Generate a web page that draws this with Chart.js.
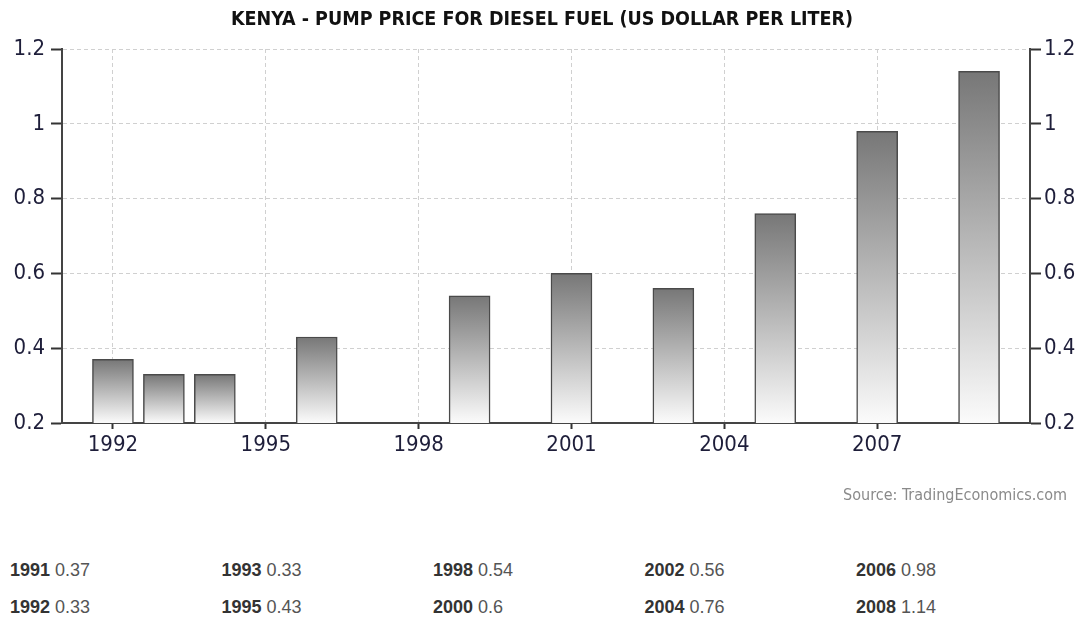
<!DOCTYPE html>
<html>
<head>
<meta charset="utf-8">
<script src="https://cdn.jsdelivr.net/npm/chart.js@4/dist/chart.umd.min.js"></script>
<style>
  html, body { margin: 0; padding: 0; background: #ffffff; width: 1084px; height: 618px; overflow: hidden; }
  #wrap { position: relative; width: 1084px; height: 618px; }
  canvas { position: absolute; left: 0; top: 0; }
  #source { position: absolute; right: 17px; top: 485px; font-family: "DejaVu Sans Condensed", "DejaVu Sans", sans-serif; font-size: 16px; color: #8a8a8a; }
  .cell { position: absolute; font-family: "Liberation Sans", Arial, sans-serif; font-size: 18px; color: #555; white-space: nowrap; line-height: 20px; }
  .cell b { color: #333; }
</style>
</head>
<body>
<div id="wrap">
  <canvas id="c" width="1084" height="520"></canvas>
  <div id="source">Source: TradingEconomics.com</div>
</div>
<script>
const titleText = 'KENYA - PUMP PRICE FOR DIESEL FUEL (US DOLLAR PER LITER)';
const years  = [1991, 1992, 1993, 1995, 1998, 2000, 2002, 2004, 2006, 2008];
const prices = [0.37, 0.33, 0.33, 0.43, 0.54, 0.60, 0.56, 0.76, 0.98, 1.14];
const xTickLabels = ['1992', '1995', '1998', '2001', '2004', '2007'];
const yTickLabels = ['0.2', '0.4', '0.6', '0.8', '1', '1.2'];

// table below the chart
const wrap = document.getElementById('wrap');
years.forEach((yr, i) => {
  const col = Math.floor(i / 2), row = i % 2;
  const d = document.createElement('div');
  d.className = 'cell';
  d.style.left = (10 + col * 211.5) + 'px';
  d.style.top = (560 + row * 37) + 'px';
  d.innerHTML = '<b>' + yr + '</b> ' + prices[i];
  wrap.appendChild(d);
});

const tickFont = { family: '"DejaVu Sans Condensed", "DejaVu Sans", sans-serif', size: 22 };
const tickColor = '#1e1e3a';

function barFill(ctx) {
  const chart = ctx.chart;
  const ys = chart.scales.y;
  if (!ys || !chart.chartArea || ctx.parsed === undefined) return '#999';
  const top = ys.getPixelForValue(ctx.parsed.y);
  const bottom = ys.getPixelForValue(ys.min);
  const g = chart.ctx.createLinearGradient(0, top, 0, bottom);
  g.addColorStop(0, '#777777');
  g.addColorStop(1, '#fbfbfb');
  return g;
}

new Chart(document.getElementById('c'), {
  type: 'bar',
  data: {
    datasets: [{
      data: years.map((y, i) => ({ x: y + 1, y: prices[i] })),
      backgroundColor: barFill,
      borderColor: '#4a4a4a',
      borderWidth: 1.5,
      borderSkipped: 'start',
      barThickness: 41
    }]
  },
  options: {
    responsive: false,
    animation: false,
    devicePixelRatio: 1,
    layout: { padding: { left: 0, right: 0, top: 0, bottom: 0 } },
    plugins: {
      legend: { display: false },
      tooltip: { enabled: false },
      title: {
        display: true,
        text: titleText,
        color: '#111',
        font: { family: '"DejaVu Sans Condensed", "DejaVu Sans", sans-serif', size: 19.5, weight: 'bold', lineHeight: 1.2 },
        padding: { top: 8, bottom: 17.6 }
      }
    },
    scales: {
      x: {
        type: 'linear',
        offset: false,
        min: 1991,
        max: 2010,
        afterBuildTicks: (s) => { s.ticks = xTickLabels.map(v => ({ value: Number(v) })); },
        afterFit: (s) => { s.height = 97; },
        ticks: {
          callback: (v) => String(v),
          font: tickFont,
          color: tickColor,
          padding: 3,
          maxRotation: 0
        },
        grid: { offset: false, color: '#d0d0d0', lineWidth: 1, tickColor: '#333', tickLength: 6, tickWidth: 2 },
        border: { display: true, color: '#444', width: 2, dash: [4, 3] }
      },
      y: {
        position: 'left',
        min: 0.2,
        max: 1.2,
        afterBuildTicks: (s) => { s.ticks = yTickLabels.map(v => ({ value: Number(v) })); },
        afterFit: (s) => { s.width = 62; },
        ticks: {
          callback: (v, i) => yTickLabels[i],
          font: tickFont,
          color: tickColor,
          padding: 6
        },
        grid: { color: '#d0d0d0', lineWidth: 1, tickColor: '#333', tickLength: 11, tickWidth: 2 },
        border: { display: true, color: '#444', width: 2, dash: [4, 3] }
      },
      y2: {
        position: 'right',
        min: 0.2,
        max: 1.2,
        afterBuildTicks: (s) => { s.ticks = yTickLabels.map(v => ({ value: Number(v) })); },
        afterFit: (s) => { s.width = 54; },
        ticks: {
          callback: (v, i) => yTickLabels[i],
          font: tickFont,
          color: tickColor,
          padding: 3
        },
        grid: { drawOnChartArea: false, tickColor: '#333', tickLength: 11, tickWidth: 2 },
        border: { display: true, color: '#444', width: 2 }
      }
    }
  }
});
</script>
</body>
</html>
